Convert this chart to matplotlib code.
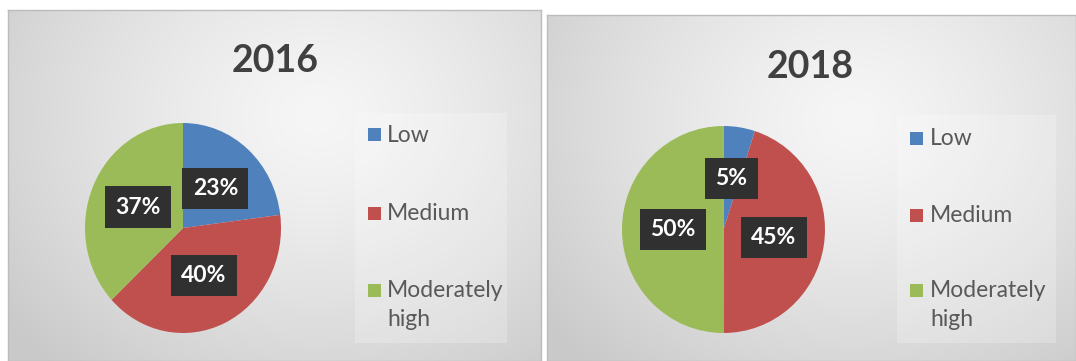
import numpy as np
import matplotlib.pyplot as plt
from matplotlib.patches import Rectangle

# ---- data ----
years = ['2016', '2018']
categories = ['Low', 'Medium', 'Moderately\nhigh']
values_2016 = [23, 40, 37]
values_2018 = [5, 45, 50]
colors = ['#4F81BD', '#C0504D', '#9BBB59']

W, H = 1076, 361
fig = plt.figure(figsize=(W / 100, H / 100), dpi=100)
fig.patch.set_facecolor('white')
FONT = ['Lato', 'DejaVu Sans']


def fx(px):
    return px / W


def fy(py):
    return 1 - py / H


panels = [
    dict(year=years[0], values=values_2016, box=(8, 10, 541, 361),
         center=(183, 228), rx=98, ry=105, title=(275, 61),
         leg=(355, 113, 507, 343), mark_x=368, text_x=387,
         rows=[135, 213, 290]),
    dict(year=years[1], values=values_2018, box=(547, 15, 1076, 361),
         center=(723.5, 229.5), rx=101.5, ry=103.5, title=(810, 67),
         leg=(897, 115, 1056, 343), mark_x=910, text_x=930,
         rows=[138, 215, 290]),
]

for p in panels:
    x0, y0, x1, y1 = p['box']
    bg = fig.add_axes([fx(x0), fy(y1), fx(x1 - x0), (y1 - y0) / H], zorder=0)
    yy, xx = np.mgrid[0:1:200j, 0:1:300j]
    d = np.sqrt(((xx - 0.58) / 0.75) ** 2 + ((yy - 0.30) / 0.95) ** 2)
    d = np.clip(d, 0, 1) ** 1.3
    shade = 0.965 - (0.965 - 0.79) * d
    img = np.dstack([shade, shade, shade])
    bg.imshow(img, extent=(0, 1, 0, 1), aspect='auto', origin='upper')
    bg.set_xlim(0, 1)
    bg.set_ylim(0, 1)
    bg.set_xticks([])
    bg.set_yticks([])
    for s in bg.spines.values():
        s.set_color('#bcbcbc')
        s.set_linewidth(1.0)
    # title
    tx, ty = p['title']
    fig.text(fx(tx), fy(ty), p['year'], ha='center', va='center',
             fontsize=27, fontweight='bold', color='#404040', family=FONT,
             zorder=3)
    # legend box
    lx0, ly0, lx1, ly1 = p['leg']
    fig.patches.append(Rectangle((fx(lx0), fy(ly1)), fx(lx1 - lx0), (ly1 - ly0) / H,
                                 transform=fig.transFigure, facecolor='white',
                                 alpha=0.22, edgecolor='none', zorder=2))
    # pie
    cx, cy = p['center']
    rx, ry = p['rx'], p['ry']
    ax = fig.add_axes([fx(cx - rx), fy(cy + ry), fx(2 * rx), 2 * ry / H], zorder=2)
    wedges, texts, autotexts = ax.pie(
        p['values'], colors=colors, startangle=90, counterclock=False,
        autopct='%.0f%%', pctdistance=0.5, radius=1.0,
        wedgeprops=dict(linewidth=0),
        textprops=dict(color='white', fontsize=16.5, fontweight='bold', family=FONT))
    for t in autotexts:
        t.set_bbox(dict(boxstyle='square,pad=0.45', facecolor='#303030',
                        edgecolor='none'))
    ax.set_xlim(-1.0, 1.0)
    ax.set_ylim(-1.0, 1.0)
    ax.set_aspect('auto')
    ax.axis('off')
    # legend entries
    for w, lab, ry_ in zip(wedges, categories, p['rows']):
        fig.patches.append(Rectangle((fx(p['mark_x']), fy(ry_ + 6.5)), fx(13), 13 / H,
                                     transform=fig.transFigure,
                                     facecolor=w.get_facecolor(), edgecolor='none',
                                     zorder=3))
        fig.text(fx(p['text_x']), fy(ry_ - 10), lab, ha='left', va='top',
                 fontsize=16.5, color='#595959', family=FONT, linespacing=1.45,
                 zorder=3)

fig.savefig('out.png', dpi=100, facecolor='white')
